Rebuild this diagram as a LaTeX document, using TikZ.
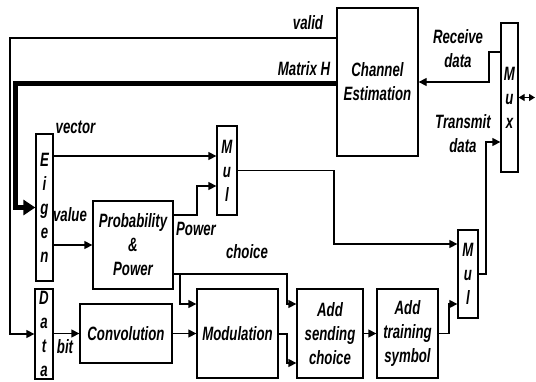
\documentclass[tikz,border=0pt]{standalone}
\usepackage{fontspec}
\setmainfont{Liberation Sans}[FakeStretch=0.685]
\usetikzlibrary{arrows.meta}
\begin{document}
\begin{tikzpicture}[x=1pt,y=-1pt,
  every node/.style={font=\fontsize{19.3}{24}\selectfont\bfseries\itshape, inner sep=0pt},
  box/.style={draw, line width=1.3pt, align=center},
  lbl/.style={align=center},
  conn/.style={line width=1.3pt, -{Triangle[length=8pt,width=8pt]}},
  plain/.style={line width=1.3pt},
  thickconn/.style={line width=5pt, -{Triangle[length=12pt,width=15pt]}}
]
\useasboundingbox (0,0) rectangle (536,381);
% boxes
\node[box, minimum width=81pt, minimum height=148pt] (ce) at (377.5,82) {Channel\\Estimation};
\node[box, minimum width=17pt, minimum height=149pt] (mux) at (509.5,97.5) {M\\u\\x};
\node[box, minimum width=17pt, minimum height=147pt] (eig) at (44.5,207.5) {E\\i\\g\\e\\n};
\node[box, minimum width=18pt, minimum height=90pt] (dat) at (44,334) {D\\a\\t\\a};
\node[box, minimum width=20pt, minimum height=89pt] (mul1) at (227,170.5) {M\\u\\l};
\node[box, minimum width=20pt, minimum height=88pt] (mul2) at (468,274) {M\\u\\l};
\node[box, minimum width=80pt, minimum height=88pt] (prob) at (133,245) {Probability\\\&\\Power};
\node[box, minimum width=92pt, minimum height=59pt] (conv) at (126,333.5) {Convolution};
\node[box, minimum width=81pt, minimum height=89pt] (mod) at (237.5,333.5) {Modulation};
\node[box, minimum width=66pt, minimum height=89pt] (asc) at (330,333.5) {Add\\sending\\choice};
\node[box, minimum width=61pt, minimum height=89pt] (ats) at (407.5,333.5) {Add\\training\\symbol};
% helper coordinates
\coordinate (vL) at (10,38);
\coordinate (mL) at (15,83);
\coordinate (rd) at (489,52);
\coordinate (td) at (486,142);
\coordinate (io) at (535,97.5);
\coordinate (v1) at (0,156);
\coordinate (p1) at (197,215);
\coordinate (m1b) at (0,186);
\coordinate (k) at (334,244);
\coordinate (c1) at (287,274);
\coordinate (c2) at (0,304);
\coordinate (b1) at (180,274);
\coordinate (m2) at (287,334);
\coordinate (c3) at (0,363);
\coordinate (t2) at (449,333.5);
% connectors
\draw[conn] (ce.west |- vL) -- (vL) |- (dat.west);
\draw[thickconn] (ce.west |- mL) -- (mL) |- (eig.west);
\draw[conn] (mux.west |- rd) -- (rd) |- (ce.east);
\draw[conn] (mul2.east) -| (td) -- (mux.west |- td);
\draw[line width=1.3pt, {Triangle[length=6pt,width=7pt]}-{Triangle[length=6pt,width=7pt]}] (mux.east) -- (io);
\draw[conn] (eig.east |- v1) -- (mul1.west |- v1);
\draw[conn] (eig.east |- prob.west) -- (prob.west);
\draw[conn] (prob.east |- p1) -- (p1) |- (mul1.west |- m1b);
\draw[conn] (mul1.east) -| (k) -- (mul2.west |- k);
\draw[conn] (prob.east |- c1) -- (c1) |- (asc.west |- c2);
\draw[conn] (b1) |- (mod.west |- c2);
\draw[conn] (dat.east |- conv.west) -- (conv.west);
\draw[conn] (conv.east) -- (mod.west |- conv.east);
\draw[conn] (mod.east |- m2) -- (m2) |- (asc.west |- c3);
\draw[conn] (asc.east) -- (ats.west);
\draw[conn] (ats.east) -- (t2) |- (mul2.west |- c2);
% labels
\node[lbl] (lvalid) at (308,23) {valid};
\node[lbl] (lmh) at (304,69) {Matrix H};
\node[lbl] (lrd) at (458,48.5) {Receive\\data};
\node[lbl] (ltd) at (463,133.5) {Transmit\\data};
\node[lbl] (lvec) at (75.5,127) {vector};
\node[lbl] (lval) at (70,215) {value};
\node[lbl] (lpow) at (196,229) {Power};
\node[lbl] (lch) at (247,252) {choice};
\node[lbl] (lbit) at (65,347) {bit};
\end{tikzpicture}
\end{document}
